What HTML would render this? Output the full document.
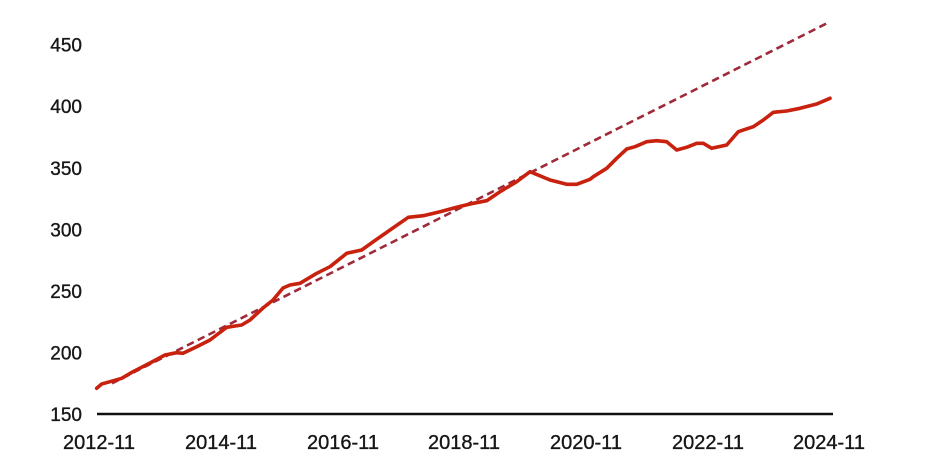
<!DOCTYPE html>
<html>
<head>
<meta charset="utf-8">
<style>
html,body{margin:0;padding:0;background:#fff;}
svg{display:block;}
text{font-family:"Liberation Sans",Arial,sans-serif;font-size:19px;fill:#161616;stroke:#161616;stroke-width:0.35px;}
.xl text{font-size:20px;}
</style>
</head>
<body>
<svg width="930" height="467" viewBox="0 0 930 467" xmlns="http://www.w3.org/2000/svg">
<rect width="930" height="467" fill="#fff"/>
<!-- y labels -->
<g text-anchor="end">
<text x="82" y="51.5">450</text>
<text x="82" y="113">400</text>
<text x="82" y="175">350</text>
<text x="82" y="236.5">300</text>
<text x="82" y="298">250</text>
<text x="82" y="359.5">200</text>
<text x="82" y="421">150</text>
</g>
<!-- x labels -->
<g text-anchor="middle" class="xl">
<text x="99" y="449">2012-11</text>
<text x="221" y="449">2014-11</text>
<text x="343" y="449">2016-11</text>
<text x="464" y="449">2018-11</text>
<text x="586" y="449">2020-11</text>
<text x="708" y="449">2022-11</text>
<text x="829" y="449">2024-11</text>
</g>
<!-- axis -->
<line x1="97" y1="414" x2="833" y2="414" stroke="#111" stroke-width="2.5"/>
<!-- trend dashed -->
<line x1="112" y1="383.3" x2="828.5" y2="22.5" stroke="#9e2a3a" stroke-width="2.6" stroke-dasharray="7.5,4.5"/>
<!-- actual -->
<polyline fill="none" stroke="#c8220f" stroke-width="3.6" stroke-linejoin="round" stroke-linecap="round"
points="96.7,388.3 101.7,384 110,381.7 121.7,378.3 133,371.7 150,363 165,355 176.7,352.7 183,353.3 196.7,346.7 210,340 226.7,327.3 241.7,325 250,320 263,308 273,300 283,288 290,285 300,283.3 316.7,273.3 330,266.7 346.7,253.3 361.7,250 373.3,241.7 390,230 408.3,217.3 423.3,215.7 440,211.7 456.7,207.3 473.3,203.3 486.7,200.7 500,191.7 516.7,181.7 530,171.7 550,180 566.7,184.3 576.7,184.3 590,179.3 593.3,176.7 606.7,168.3 616.7,158.3 626.7,149 635,146.7 646.7,141.7 656.7,140.7 666.7,141.7 676.7,150 686.7,147.3 696.7,143.3 703.3,143.3 711.7,148.3 726.7,145 738.3,131.7 753.3,126.7 763.3,120 773.3,112.3 786.7,111 800,108.3 816.7,104 830,98.3"/>
</svg>
</body>
</html>
